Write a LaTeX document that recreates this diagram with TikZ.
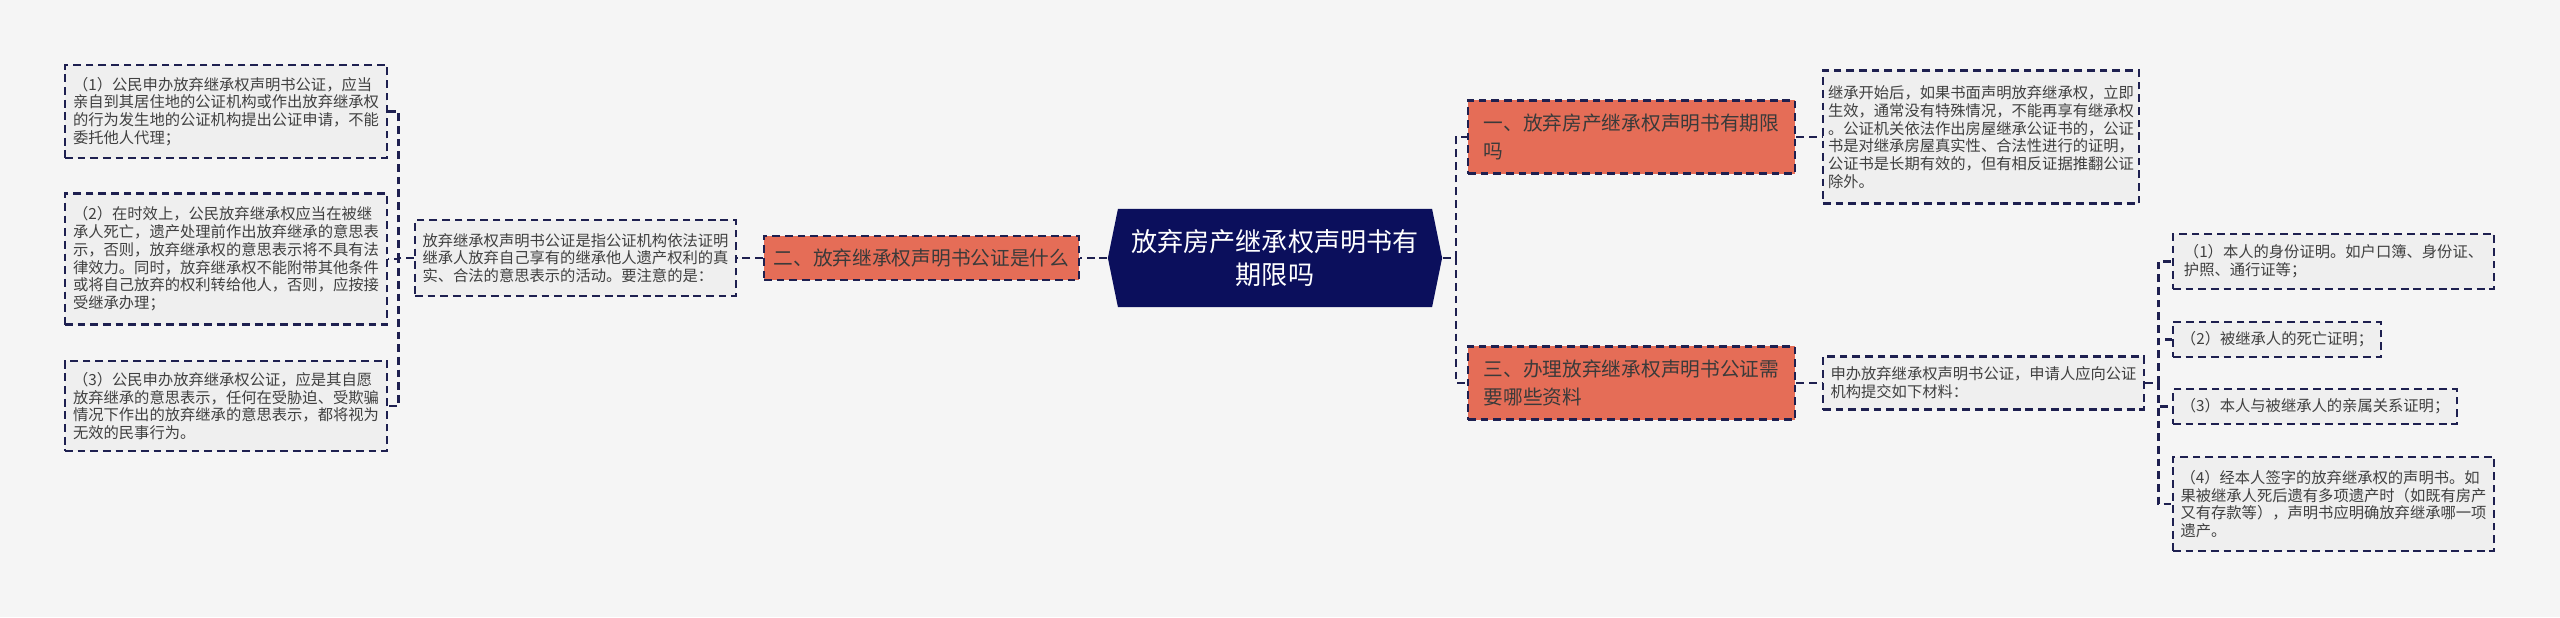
\documentclass[tikz,border=0pt]{standalone}
\usepackage{fontspec}
\setmainfont{Noto Sans CJK SC}
\usetikzlibrary{calc}
\definecolor{mynavy}{HTML}{0B0F5C}
\definecolor{myline}{HTML}{1E2050}
\definecolor{myred}{HTML}{E56D57}
\definecolor{mypaper}{HTML}{F5F5F5}
\definecolor{mybox}{HTML}{EFEFEF}
\definecolor{mytext}{HTML}{404040}
\tikzset{
	linkline/.style={draw=myline, line width=0.7pt, dash pattern=on 2.2pt off 1.4pt}
}
\tikzset{
	notebox/.style={linkline, fill=mybox, text=mytext, align=left, inner sep=0pt,
		font=\fontsize{4.35}{5.05}\selectfont}
}
\tikzset{
	topicbox/.style={linkline, fill=myred, text=mytext!90!black, align=left, inner sep=0pt,
		minimum width=3.27cm, minimum height=0.73cm, font=\fontsize{5.6}{8}\selectfont}
}
\tikzset{
	rootbox/.style={text=white, align=center, inner sep=0pt,
		minimum width=3.34cm, minimum height=0.98cm, font=\fontsize{7.42}{9.4}\selectfont,
		path picture={\fill[mynavy] (path picture bounding box.west)
			-- ([xshift=0.1cm]path picture bounding box.north west)
			-- ([xshift=-0.1cm]path picture bounding box.north east)
			-- (path picture bounding box.east)
			-- ([xshift=-0.1cm]path picture bounding box.south east)
			-- ([xshift=0.1cm]path picture bounding box.south west) -- cycle;}}
}

\begin{document}
\begin{tikzpicture}[x=0.01cm, y=-0.01cm]
      \fill[mypaper] (0,0) rectangle (2560,617);
      \node[rootbox] (root) at (1275,258) {放弃房产继承权声明书有\\期限吗};
      % left branch
      \node[topicbox, minimum width=3.15cm, minimum height=0.44cm] (two) at (921.5,258) {二、放弃继承权声明书公证是什么};
      \node[notebox, minimum width=3.21cm, minimum height=0.76cm] (twodesc) at (575.5,258) {放弃继承权声明书公证是指公证机构依法证明\\继承人放弃自己享有的继承他人遗产权利的真\\实、合法的意思表示的活动。要注意的是：};
      \node[notebox, minimum width=3.22cm, minimum height=0.93cm] (leafA1) at (226,111.5) {（1）公民申办放弃继承权声明书公证，应当\\亲自到其居住地的公证机构或作出放弃继承权\\的行为发生地的公证机构提出公证申请，不能\\委托他人代理；};
      \node[notebox, minimum width=3.22cm, minimum height=1.31cm] (leafA2) at (226,259) {（2）在时效上，公民放弃继承权应当在被继\\承人死亡，遗产处理前作出放弃继承的意思表\\示，否则，放弃继承权的意思表示将不具有法\\律效力。同时，放弃继承权不能附带其他条件\\或将自己放弃的权利转给他人，否则，应按接\\受继承办理；};
      \node[notebox, minimum width=3.22cm, minimum height=0.9cm] (leafA3) at (226,406) {（3）公民申办放弃继承权公证，应是其自愿\\放弃继承的意思表示，任何在受胁迫、受欺骗\\情况下作出的放弃继承的意思表示，都将视为\\无效的民事行为。};
      % right branch
      \node[topicbox] (one) at (1631.5,137) {一、放弃房产继承权声明书有期限\\吗};
      \node[notebox, minimum width=3.16cm, minimum height=1.33cm] (onedesc) at (1981,137) {继承开始后，如果书面声明放弃继承权，立即\\生效，通常没有特殊情况，不能再享有继承权\\。公证机关依法作出房屋继承公证书的，公证\\书是对继承房屋真实性、合法性进行的证明，\\公证书是长期有效的，但有相反证据推翻公证\\除外。};
      \node[topicbox] (three) at (1631.5,383) {三、办理放弃继承权声明书公证需\\要哪些资料};
      \node[notebox, minimum width=3.21cm, minimum height=0.53cm] (threedesc) at (1983.5,383) {申办放弃继承权声明书公证，申请人应向公证\\机构提交如下材料：};
      \node[notebox, minimum width=3.21cm, minimum height=0.55cm] (leafB1) at (2333.5,261.5) {（1）本人的身份证明。如户口簿、身份证、\\护照、通行证等；};
      \node[notebox, minimum width=2.08cm, minimum height=0.35cm] (leafB2) at (2277,339.5) {（2）被继承人的死亡证明；};
      \node[notebox, minimum width=2.84cm, minimum height=0.35cm] (leafB3) at (2315,406.5) {（3）本人与被继承人的亲属关系证明；};
      \node[notebox, minimum width=3.21cm, minimum height=0.94cm] (leafB4) at (2333.5,504) {（4）经本人签字的放弃继承权的声明书。如\\果被继承人死后遗有多项遗产时（如既有房产\\又有存款等），声明书应明确放弃继承哪一项\\遗产。};
      % connectors
      \draw[linkline] (root.west) -- (two.east);
      \draw[linkline] (two.west) -- (twodesc.east);
      \foreach \n in {leafA1, leafA2, leafA3}
        \draw[linkline] (twodesc.west) -- ++(-15,0) |- (\n.east);
      \foreach \n in {one, three}
        \draw[linkline] (root.east) -- ++(13,0) |- (\n.west);
      \draw[linkline] (one.east) -- (onedesc.west);
      \draw[linkline] (three.east) -- (threedesc.west);
      \foreach \n in {leafB1, leafB2, leafB3, leafB4}
        \draw[linkline] (threedesc.east) -- ++(13,0) |- (\n.west);
    \end{tikzpicture}
\end{document}
